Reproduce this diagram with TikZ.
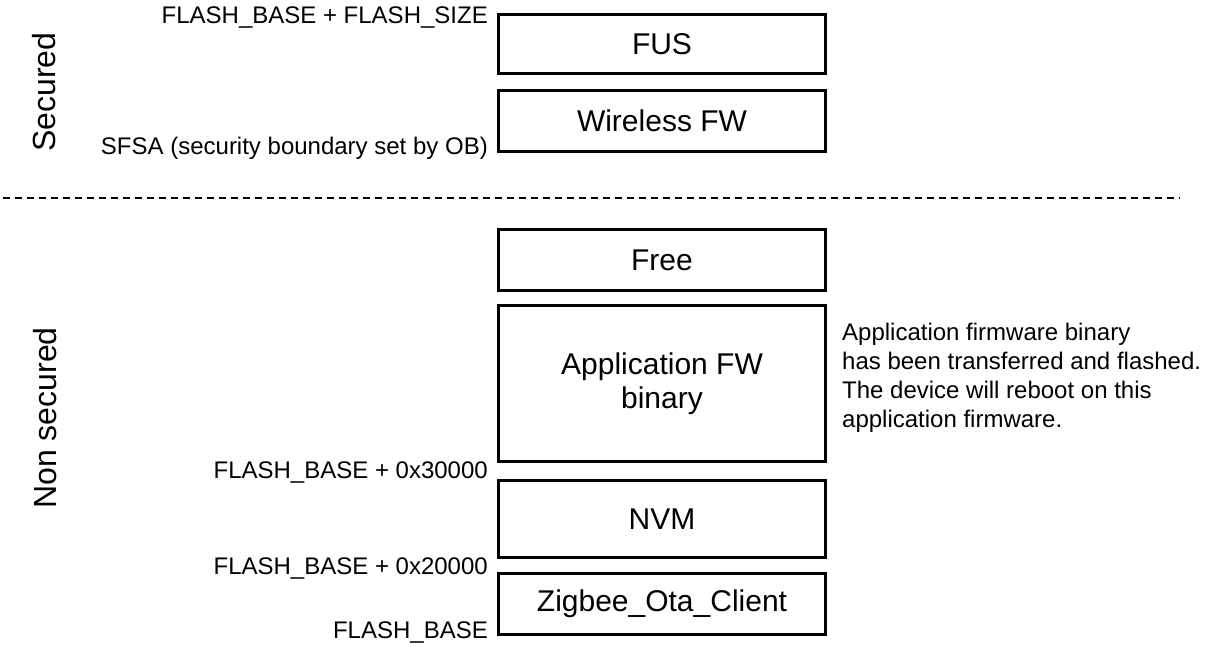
\documentclass[tikz,border=0pt]{standalone}
\usepackage{fontspec}
\setmainfont{Liberation Sans}
\begin{document}
\begin{tikzpicture}[x=1pt,y=-1pt,
  mem/.style={draw=black,line width=3pt,minimum width=327pt,inner sep=0pt,
    font=\fontsize{30}{34}\selectfont,align=center},
  addr/.style={anchor=east,inner sep=0pt,font=\fontsize{24}{28}\selectfont},
  side/.style={rotate=90,inner sep=0pt,font=\fontsize{32}{36}\selectfont},
  note/.style={anchor=west,inner sep=0pt,align=left,font=\fontsize{24}{29}\selectfont},
  sep/.style={line width=2pt,dash pattern=on 7pt off 5pt}]
\useasboundingbox (0,0) rectangle (1216,646);
% memory blocks
\node[mem,minimum height=59pt] (fus) at (662,44) {FUS};
\node[mem,minimum height=61pt] (wfw) at (662,121) {Wireless FW};
\node[mem,minimum height=61pt] (free) at (662,260) {Free};
\node[mem,minimum height=156pt] (app) at (662,383.5) {Application FW\\binary};
\node[mem,minimum height=77pt] (nvm) at (662,519) {NVM};
\node[mem,minimum height=61pt] (zig) at (662,604) {Zigbee\_Ota\_Client};
% address labels
\node[addr] (a1) at (488,18) {FLASH\_BASE + FLASH\_SIZE};
\node[addr] (a2) at (488,148) {SFSA (security boundary set by OB)};
\node[addr] (a3) at (488,472) {FLASH\_BASE + 0x30000};
\node[addr] (a4) at (488,568) {FLASH\_BASE + 0x20000};
\node[addr] (a5) at (488,632) {FLASH\_BASE};
% side labels
\node[side] (sec) at (44,92) {Secured};
\node[side] (nsec) at (45,418) {Non secured};
% note
\node[note] (nt) at (842,378) {Application firmware binary\\has been transferred and flashed.\\The device will reboot on this\\application firmware.};
% separator
\coordinate (s1) at (3,198);
\coordinate (s2) at (1180,198);
\draw[sep] (s1) -- (s2);
\end{tikzpicture}
\end{document}
